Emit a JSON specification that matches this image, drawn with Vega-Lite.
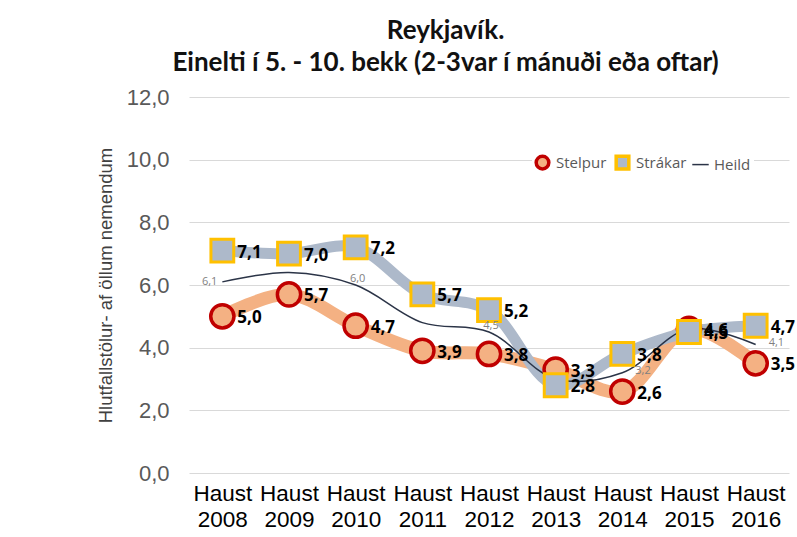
{
  "$schema": "https://vega.github.io/schema/vega-lite/v6.json",
  "autosize": {"type": "none"},
  "width": 600,
  "height": 376,
  "padding": {"left": 189, "top": 97, "right": 8, "bottom": 64},
  "config": {
    "locale": {"number": {"decimal": ",", "thousands": ".", "grouping": [3], "currency": ["", " kr."]}},
    "view": {"stroke": null},
    "font": "Lato"
  },
  "title": {
    "text": ["Reykjavík.", "Einelti í 5. - 10. bekk (2-3var í mánuði eða oftar)"],
    "font": "Lato",
    "fontSize": 26,
    "fontWeight": "bold",
    "color": "#111111",
    "lineHeight": 32,
    "anchor": "middle",
    "frame": "bounds",
    "offset": 10
  },
  "data": {
    "values": [
      {"year": "2008", "series": "Stelpur", "value": 5.0},
      {"year": "2009", "series": "Stelpur", "value": 5.7},
      {"year": "2010", "series": "Stelpur", "value": 4.7},
      {"year": "2011", "series": "Stelpur", "value": 3.9},
      {"year": "2012", "series": "Stelpur", "value": 3.8},
      {"year": "2013", "series": "Stelpur", "value": 3.3},
      {"year": "2014", "series": "Stelpur", "value": 2.6},
      {"year": "2015", "series": "Stelpur", "value": 4.6},
      {"year": "2016", "series": "Stelpur", "value": 3.5},
      {"year": "2008", "series": "Strákar", "value": 7.1},
      {"year": "2009", "series": "Strákar", "value": 7.0},
      {"year": "2010", "series": "Strákar", "value": 7.2},
      {"year": "2011", "series": "Strákar", "value": 5.7},
      {"year": "2012", "series": "Strákar", "value": 5.2},
      {"year": "2013", "series": "Strákar", "value": 2.8},
      {"year": "2014", "series": "Strákar", "value": 3.8},
      {"year": "2015", "series": "Strákar", "value": 4.5},
      {"year": "2016", "series": "Strákar", "value": 4.7},
      {"year": "2008", "series": "Heild", "value": 6.1},
      {"year": "2009", "series": "Heild", "value": 6.4},
      {"year": "2010", "series": "Heild", "value": 6.0},
      {"year": "2011", "series": "Heild", "value": 4.8},
      {"year": "2012", "series": "Heild", "value": 4.5},
      {"year": "2013", "series": "Heild", "value": 3.0},
      {"year": "2014", "series": "Heild", "value": 3.2},
      {"year": "2015", "series": "Heild", "value": 4.6},
      {"year": "2016", "series": "Heild", "value": 4.1}
    ]
  },
  "encoding": {
    "x": {
      "field": "year",
      "type": "nominal",
      "sort": null,
      "scale": {"paddingInner": 0, "paddingOuter": 0.5},
      "axis": {
        "title": null,
        "labelAngle": 0,
        "labelExpr": "['Haust', datum.label]",
        "labelFont": "Liberation Sans",
        "labelFontSize": 22.5,
        "labelColor": "#000000",
        "labelPadding": 9,
        "labelLineHeight": 26,
        "ticks": false,
        "domain": false,
        "grid": false
      }
    },
    "y": {
      "field": "value",
      "type": "quantitative",
      "scale": {"domain": [0, 12], "nice": false},
      "axis": {
        "values": [0, 2, 4, 6, 8, 10, 12],
        "format": ".1f",
        "title": "Hlutfallstölur- af öllum nemendum",
        "titleFont": "Liberation Sans",
        "titleFontSize": 18.5,
        "titleFontWeight": "normal",
        "titleColor": "#404040",
        "titlePadding": 11,
        "labelFont": "Liberation Sans",
        "labelFontSize": 22,
        "labelColor": "#595959",
        "labelPadding": 20,
        "ticks": false,
        "domain": false,
        "gridColor": "#d9d9d9",
        "gridWidth": 1.2
      }
    }
  },
  "layer": [
    {
      "transform": [{"filter": "datum.series === 'Stelpur'"}],
      "mark": {"type": "line", "interpolate": "catmull-rom", "strokeCap": "round", "color": "#f4b183", "strokeWidth": 13},
      "encoding": {}
    },
    {
      "transform": [{"filter": "datum.series === 'Strákar'"}],
      "mark": {"type": "line", "interpolate": "catmull-rom", "strokeCap": "round", "color": "#adb9ca", "strokeWidth": 11},
      "encoding": {}
    },
    {
      "transform": [{"filter": "datum.series === 'Heild'"}],
      "mark": {"type": "line", "interpolate": "catmull-rom", "strokeWidth": 1.5},
      "encoding": {
        "color": {
          "field": "series",
          "type": "nominal",
          "scale": {"domain": ["Stelpur", "Strákar", "Heild"], "range": ["#c00000", "#ffc000", "#2b3447"]},
          "legend": {
            "orient": "none",
            "legendX": 343,
            "legendY": 55,
            "direction": "horizontal",
            "title": null,
            "fillColor": "#ffffff",
            "padding": 3,
            "labelFont": "Open Sans",
            "labelFontSize": 15,
            "labelColor": "#595959",
            "symbolSize": 160,
            "columnPadding": 2,
            "labelOffset": 6,
            "encode": {
              "symbols": {
                "update": {
                  "shape": {"signal": "datum.value === 'Stelpur' ? 'circle' : datum.value === 'Strákar' ? 'square' : 'M-1.3,-1M-1.3,0L1.3,0M1.3,1'"},
                  "fill": {"signal": "datum.value === 'Stelpur' ? '#f4b183' : datum.value === 'Strákar' ? '#adb9ca' : 'transparent'"},
                  "strokeWidth": {"signal": "datum.value === 'Heild' ? 1.5 : 3.5"},
                  "opacity": {"value": 1}
                }
              }
            }
          }
        }
      }
    },
    {
      "transform": [{"filter": "datum.series === 'Stelpur'"}],
      "mark": {"type": "point", "shape": "circle", "filled": true, "fill": "#f4b183", "stroke": "#c00000", "strokeWidth": 3.5, "size": 540, "opacity": 1}
    },
    {
      "transform": [{"filter": "datum.series === 'Strákar'"}],
      "mark": {"type": "point", "shape": "square", "filled": true, "fill": "#adb9ca", "stroke": "#ffc000", "strokeWidth": 3, "size": 520, "opacity": 1}
    },
    {
      "transform": [{"filter": "datum.series !== 'Heild'"}],
      "mark": {"type": "text", "align": "left", "baseline": "middle", "dx": 15, "dy": 2, "font": "Open Sans", "fontSize": 17, "fontWeight": "bold", "color": "#000000"},
      "encoding": {"text": {"field": "value", "type": "quantitative", "format": ".1f"}}
    },
    {
      "transform": [{"filter": "datum.series === 'Heild' && datum.year === '2008'"}],
      "mark": {"type": "text", "align": "right", "baseline": "middle", "dx": -5, "dy": 0, "font": "Open Sans", "fontSize": 11, "color": "#7f7f7f"},
      "encoding": {"text": {"field": "value", "type": "quantitative", "format": ".1f"}}
    },
    {
      "transform": [{"filter": "datum.series === 'Heild' && (datum.year === '2010' || datum.year === '2012')"}],
      "mark": {"type": "text", "align": "center", "baseline": "bottom", "dx": 2, "dy": -1, "font": "Open Sans", "fontSize": 11, "color": "#7f7f7f"},
      "encoding": {"text": {"field": "value", "type": "quantitative", "format": ".1f"}}
    },
    {
      "transform": [{"filter": "datum.series === 'Heild' && (datum.year === '2014' || datum.year === '2016')"}],
      "mark": {"type": "text", "align": "left", "baseline": "middle", "dx": 13, "dy": -2, "font": "Open Sans", "fontSize": 11, "color": "#7f7f7f"},
      "encoding": {"text": {"field": "value", "type": "quantitative", "format": ".1f"}}
    }
  ]
}
